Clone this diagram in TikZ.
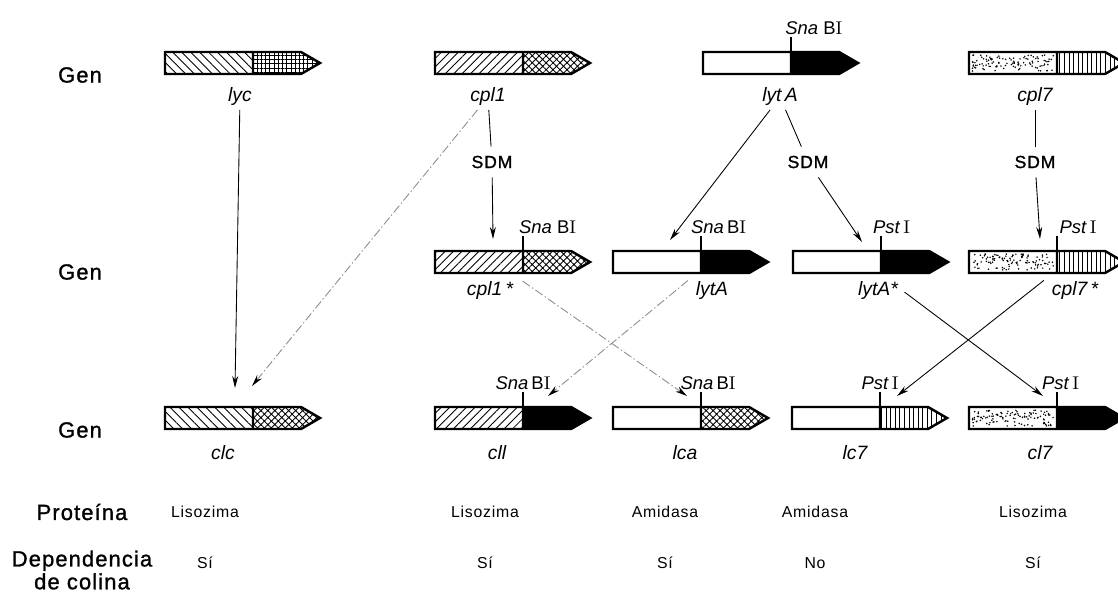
\documentclass[tikz,border=0pt]{standalone}
\usepackage{fontspec}
\setsansfont{Liberation Sans}
\newfontfamily\spacedsans[LetterSpace=5]{Liberation Sans}
\newfontfamily\headsans[LetterSpace=5,FakeBold=1.2]{Liberation Sans}
\usepackage{tikz}
\usetikzlibrary{arrows.meta,patterns.meta}
\tikzset{
  body/.style={line width=1.4pt, line join=miter},
  cutsite/.style={line width=0.6pt},
  conn/.style={-{Stealth[length=2.4mm,width=1.2mm,color=black]}, line width=0.5pt},
  faint/.style={black!45, dash pattern=on 5pt off 1.5pt on 0.8pt off 1.5pt},
  gname/.style={font=\sffamily\itshape\fontsize{11}{13}\selectfont, inner sep=2pt},
  enz/.style={font=\sffamily\fontsize{10.5}{12}\selectfont, anchor=south, inner sep=1pt},
  sdm/.style={font=\headsans\fontsize{10}{12}\selectfont, inner xsep=2pt, inner ysep=5pt},
  rowlbl/.style={font=\headsans\fontsize{12.5}{13}\selectfont, align=center},
  val/.style={font=\spacedsans\fontsize{9}{10}\selectfont},
  hatchR/.style={pattern={Lines[angle=45,distance=3.4pt,line width=0.5pt]}},
  hatchL/.style={pattern={Lines[angle=-45,distance=3.6pt,line width=0.5pt]}},
  squares/.style={pattern={Hatch[angle=0,distance=2.4pt,line width=0.45pt]}},
  xhatch/.style={pattern={Hatch[angle=45,distance=2.8pt,line width=0.5pt]}},
  bars/.style={pattern={Lines[angle=90,distance=2.6pt,line width=0.5pt]}},
  blank/.style={fill=white},
  dark/.style={fill=black},
}
% #1 = left x, #2 = top y, #3 = left part, #4 = right part
\newcommand{\gene}[4]{%
  \path[#3] (#1,#2) rectangle ++(88,22);
  \path[#4] (#1+88,#2) -- ++(48,0) -- ++(19,11) -- ++(-19,11) -- ++(-48,0) -- cycle;
  \draw[body] (#1,#2) -- ++(136,0) -- ++(19,11) -- ++(-19,11) -- ++(-136,0) -- cycle
    (#1+88,#2) -- ++(0,22);
}
\newcommand{\stipple}[2]{%
  \foreach \k in {1,...,110} \fill ({#1+3+82*rnd},{#2+3+16*rnd}) circle (0.85);
}
% #1 = name, #2 = x, #3 = top y, #4 = label shift, #5 = enzyme
\newcommand{\site}[5]{%
  \draw[cutsite] (#2,#3) -- ++(0,-15) node[enz,xshift=#4] (#1) {#5};
}
\newcommand{\enzSna}[1][\ ]{\textit{Sna}#1B\textrm{I}}
\newcommand{\enzPst}{\textit{Pst}\,\textrm{I}}

\begin{document}
\begin{tikzpicture}[x=0.02cm,y=-0.02cm]
  \clip (0,0) rectangle (1118,595);
  \pgfmathsetseed{11}

  % genes
  \gene{165}{52}{hatchL}{squares}
  \gene{435}{52}{hatchR}{xhatch}
  \gene{703}{52}{blank}{dark}
  \gene{969}{52}{blank}{bars}  \stipple{969}{52}
  \gene{435}{251}{hatchR}{xhatch}
  \gene{613}{251}{blank}{dark}
  \gene{793}{251}{blank}{dark}
  \gene{969}{251}{blank}{bars} \stipple{969}{251}
  \gene{165}{407}{hatchL}{xhatch}
  \gene{435}{407}{hatchR}{dark}
  \gene{613}{407}{blank}{xhatch}
  \gene{792}{407}{blank}{bars}
  \gene{969}{407}{blank}{dark} \stipple{969}{407}

  % restriction sites
  \site{e1}{791}{52}{13pt}{\enzSna}
  \site{e2}{523}{251}{14pt}{\enzSna}
  \site{e3}{701}{251}{10pt}{\enzSna[\,]}
  \site{e4}{881}{251}{6pt}{\enzPst}
  \site{e5}{1057}{251}{12pt}{\enzPst}
  \site{e6}{523}{407}{0pt}{\enzSna[\,]}
  \site{e7}{701}{407}{4pt}{\enzSna[\,]}
  \site{e8}{880}{407}{0pt}{\enzPst}
  \site{e9}{1057}{407}{2pt}{\enzPst}

  % gene names
  \node[gname] (lyc) at (240,97) {lyc};
  \node[gname] (cpl1) at (488,97) {cpl1};
  \node[gname] (lytA) at (780,97) {lyt\,A};
  \node[gname] (cpl7) at (1035,97) {cpl7};
  \node[gname] (cpl1s) at (490,290) {cpl1\,*};
  \node[gname] (lytAm) at (712,290) {lytA};
  \node[gname] (lytAs) at (878,290) {lytA*};
  \node[gname] (cpl7s) at (1075,290) {cpl7\,*};
  \node[gname] (clc) at (223,453) {clc};
  \node[gname] (cll) at (497,453) {cll};
  \node[gname] (lca) at (685,453) {lca};
  \node[gname] (lc7) at (855,453) {lc7};
  \node[gname] (cl7) at (1040,453) {cl7};

  \node[sdm] (sdm1) at (492,162) {SDM};
  \node[sdm] (sdm2) at (808,162) {SDM};
  \node[sdm] (sdm3) at (1035,162) {SDM};

  \coordinate (t-clc1) at (235,388);
  \coordinate (t-clc2) at (252,386);
  \coordinate (t-cpl1s) at (493,239);
  \coordinate (t-lytAm) at (670,240);
  \coordinate (t-lytAs) at (862,242);
  \coordinate (t-cpl7s) at (1040,239);
  \coordinate (t-cll) at (548,396);
  \coordinate (t-lca) at (687,396);
  \coordinate (t-lc7) at (897,396);
  \coordinate (t-cl7) at (1043,396);

  % connectors
  \draw[conn] (lyc) -- (t-clc1);
  \draw[conn,faint] (cpl1) -- (t-clc2);
  \draw[line width=0.5pt] (cpl1) -- (sdm1);
  \draw[conn] (sdm1) -- (t-cpl1s);
  \draw[conn] (lytA) -- (t-lytAm);
  \draw[line width=0.5pt] (lytA) -- (sdm2);
  \draw[conn] (sdm2) -- (t-lytAs);
  \draw[line width=0.5pt] (cpl7) -- (sdm3);
  \draw[conn] (sdm3) -- (t-cpl7s);
  \draw[conn,faint,shorten <=4pt] (cpl1s.north east) -- (t-lca);
  \draw[conn,faint,shorten <=3pt] (lytAm.north west) -- (t-cll);
  \draw[conn,shorten <=2pt] (lytAs.east) -- (t-cl7);
  \draw[conn,shorten <=3pt] (cpl7s.north west) -- (t-lc7);

  % row labels and properties
  \node[rowlbl] (g1) at (80,75) {Gen};
  \node[rowlbl] (g2) at (80,272) {Gen};
  \node[rowlbl] (g3) at (80,430) {Gen};
  \node[rowlbl] (prot) at (82,512) {Proteína};
  \node[rowlbl,inner sep=0pt] (dep) at (82,570) {Dependencia\\de colina};
  \foreach \x/\p/\d in {205/Lisozima/Sí, 485/Lisozima/Sí, 665/Amidasa/Sí,
                        815/Amidasa/No, 1033/Lisozima/Sí} {
    \node[val] (p\x) at (\x,512) {\p};
    \node[val] (d\x) at (\x,563) {\d};
  }
\end{tikzpicture}
\end{document}
